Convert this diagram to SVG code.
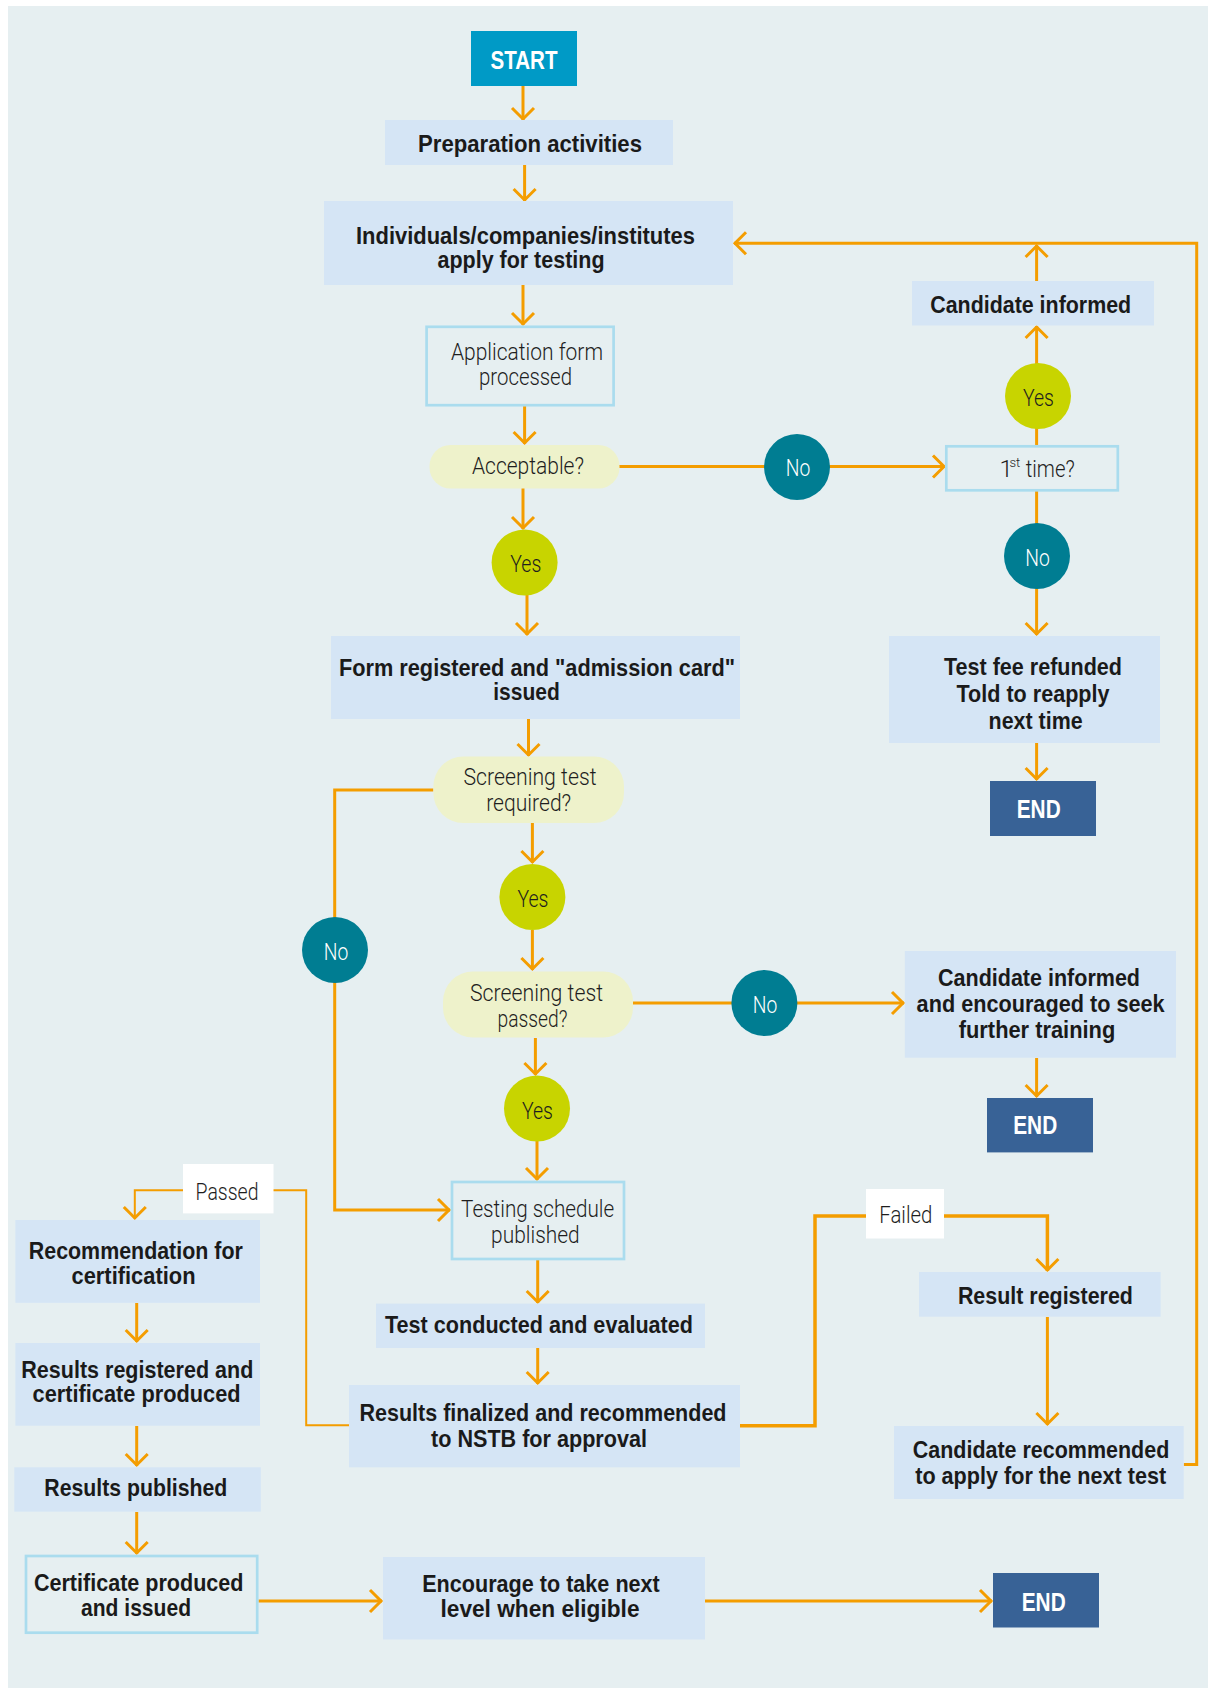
<svg xmlns="http://www.w3.org/2000/svg" width="1208" height="1688" viewBox="0 0 1208 1688">
<style>
.b{font-family:'Liberation Sans Narrow','Liberation Sans',Arial,sans-serif;font-weight:700;font-size:24px;fill:#1a1a1a;text-anchor:middle}
.l{font-family:Roboto,'Liberation Sans',Arial,sans-serif;font-weight:300;font-size:24px;fill:#1e1e1e;text-anchor:middle}
.w{fill:#ffffff}
.box{fill:#d5e5f5}
.obox{fill:#e6eff1;stroke:#aadcee;stroke-width:2.7}
.pill{fill:#eef2cb}
.yes{fill:#c8d400}
.no{fill:#007d92}
.end{fill:#386296}
.lab{fill:#ffffff}
.ca{fill:none;stroke:#f49d00;stroke-width:3;marker-end:url(#ah)}
</style>
<defs>
<marker id="ah" viewBox="-14 -14 28 28" markerWidth="28" markerHeight="28" markerUnits="userSpaceOnUse" refX="1" refY="0" orient="auto">
<path d="M-11,-11 L0,0 L-11,11" fill="none" stroke="#f49d00" stroke-width="3"/>
</marker>
</defs>
<rect x="8" y="6" width="1200" height="1682" fill="#e6eff1"/>
<g id="connectors">
<path class="ca" d="M523,86 V120"/>
<path class="ca" d="M524.6,165 V201"/>
<path class="ca" d="M523,285 V325"/>
<path class="ca" d="M524.6,406 V444"/>
<path class="ca" d="M523,488 V529"/>
<path class="ca" d="M527,595 V635"/>
<path class="ca" d="M528.5,719 V756"/>
<path class="ca" d="M532.4,823 V863"/>
<path class="ca" d="M532.4,930 V970"/>
<path class="ca" d="M535.4,1038 V1075"/>
<path class="ca" d="M537,1141 V1180"/>
<path class="ca" d="M537.7,1260 V1303"/>
<path class="ca" d="M537.7,1348 V1384"/>
<path class="ca" d="M619,466.5 H945"/>
<path class="ca" d="M1036.6,445 V326"/>
<path class="ca" d="M1036.6,281 V245"/>
<path class="ca" d="M1036.6,491 V635"/>
<path class="ca" d="M1036.6,743 V780"/>
<path class="ca" d="M433.4,790 H334.7 V1210 H450"/>
<path class="ca" d="M633,1003 H904"/>
<path class="ca" d="M1036.6,1058 V1097"/>
<path class="ca" style="stroke-width:2" d="M349,1425.3 H306.2 V1190.3 H134.8 V1219"/>
<path class="ca" style="stroke-width:3.5" d="M740,1425.7 H815 V1216 H1047.4 V1271"/>
<path class="ca" d="M1047.4,1317 V1425"/>
<path class="ca" d="M1183.7,1464.6 H1196.7 V243.3 H734"/>
<path class="ca" d="M136.7,1303 V1342"/>
<path class="ca" d="M136.7,1426 V1466"/>
<path class="ca" d="M136.7,1512 V1554"/>
<path class="ca" d="M258.5,1601 H382"/>
<path class="ca" d="M705,1601 H992"/>
</g>
<g id="start"><rect x="471" y="31" width="106" height="55" fill="#009ac6"/><text class="b w" x="524" y="69" style="font-size:26px" textLength="67" lengthAdjust="spacingAndGlyphs">START</text></g>
<g id="prep"><rect class="box" x="385" y="120" width="288" height="45"/><text class="b" x="530" y="152" textLength="224" lengthAdjust="spacingAndGlyphs">Preparation activities</text></g>
<g id="apply"><rect class="box" x="324" y="201" width="409" height="84"/>
<text class="b" x="525.5" y="243.5" textLength="339" lengthAdjust="spacingAndGlyphs">Individuals/companies/institutes</text>
<text class="b" x="521" y="267.7" textLength="167" lengthAdjust="spacingAndGlyphs">apply for testing</text></g>
<g id="appform"><rect class="obox" x="426.6" y="326.8" width="187" height="78.4"/>
<text class="l" x="527" y="360" textLength="152" lengthAdjust="spacingAndGlyphs">Application form</text>
<text class="l" x="525.5" y="385" textLength="93" lengthAdjust="spacingAndGlyphs">processed</text></g>
<g id="acceptable"><rect class="pill" x="429.5" y="445" width="190" height="43.5" rx="21"/><text class="l" x="528" y="474" textLength="112" lengthAdjust="spacingAndGlyphs">Acceptable?</text></g>
<g id="no1"><circle class="no" cx="797" cy="467" r="33"/><text class="l w" x="798" y="476" textLength="24.5" lengthAdjust="spacingAndGlyphs">No</text></g>
<g id="firsttime"><rect class="obox" x="946.3" y="446.3" width="171.5" height="44"/>
<text class="l" style="text-anchor:start"><tspan x="999.5" y="476.5">1</tspan><tspan x="1009.5" y="467" style="font-size:13px">st</tspan><tspan x="1025.7" y="476.5" textLength="49" lengthAdjust="spacingAndGlyphs">time?</tspan></text></g>
<g id="yes2"><circle class="yes" cx="1038" cy="396" r="33"/><text class="l" x="1038.5" y="405.5" textLength="31" lengthAdjust="spacingAndGlyphs">Yes</text></g>
<g id="candinf"><rect class="box" x="912" y="281" width="242" height="44.5"/><text class="b" x="1030.7" y="313" textLength="201" lengthAdjust="spacingAndGlyphs">Candidate informed</text></g>
<g id="no2"><circle class="no" cx="1037" cy="556" r="33"/><text class="l w" x="1037.5" y="565.5" textLength="24.5" lengthAdjust="spacingAndGlyphs">No</text></g>
<g id="refund"><rect class="box" x="889" y="636" width="271" height="107"/>
<text class="b" x="1033" y="675" textLength="178" lengthAdjust="spacingAndGlyphs">Test fee refunded</text>
<text class="b" x="1033" y="702" textLength="153" lengthAdjust="spacingAndGlyphs">Told to reapply</text>
<text class="b" x="1035.6" y="728.7" textLength="94" lengthAdjust="spacingAndGlyphs">next time</text></g>
<g id="end1"><rect class="end" x="990" y="781" width="106" height="55"/><text class="b w" x="1038.7" y="818" style="font-size:25px" textLength="44" lengthAdjust="spacingAndGlyphs">END</text></g>
<g id="yes1"><circle class="yes" cx="524.6" cy="562.4" r="33"/><text class="l" x="525.8" y="572" textLength="31" lengthAdjust="spacingAndGlyphs">Yes</text></g>
<g id="formreg"><rect class="box" x="331" y="636" width="409" height="83"/>
<text class="b" x="537" y="675.6" textLength="396" lengthAdjust="spacingAndGlyphs">Form registered and "admission card"</text>
<text class="b" x="526.5" y="699.8" textLength="66.6" lengthAdjust="spacingAndGlyphs">issued</text></g>
<g id="screenreq"><rect class="pill" x="433.4" y="756.5" width="190.6" height="66.5" rx="30"/>
<text class="l" x="530" y="785.3" textLength="133" lengthAdjust="spacingAndGlyphs">Screening test</text>
<text class="l" x="528.7" y="811" textLength="85" lengthAdjust="spacingAndGlyphs">required?</text></g>
<g id="no3"><circle class="no" cx="335" cy="950" r="33"/><text class="l w" x="336" y="960" textLength="24.5" lengthAdjust="spacingAndGlyphs">No</text></g>
<g id="yes3"><circle class="yes" cx="532.4" cy="897" r="33"/><text class="l" x="533" y="906.7" textLength="31" lengthAdjust="spacingAndGlyphs">Yes</text></g>
<g id="screenpass"><rect class="pill" x="443" y="971.4" width="190" height="66.2" rx="30"/>
<text class="l" x="536.5" y="1001" textLength="133" lengthAdjust="spacingAndGlyphs">Screening test</text>
<text class="l" x="532.5" y="1027" textLength="70" lengthAdjust="spacingAndGlyphs">passed?</text></g>
<g id="no4"><circle class="no" cx="764.4" cy="1003" r="33"/><text class="l w" x="765" y="1012.6" textLength="24.5" lengthAdjust="spacingAndGlyphs">No</text></g>
<g id="candenc"><rect class="box" x="904.8" y="951" width="271.2" height="106.7"/>
<text class="b" x="1039" y="985.7" textLength="202" lengthAdjust="spacingAndGlyphs">Candidate informed</text>
<text class="b" x="1040.6" y="1011.5" textLength="248" lengthAdjust="spacingAndGlyphs">and encouraged to seek</text>
<text class="b" x="1037" y="1037.7" textLength="156.5" lengthAdjust="spacingAndGlyphs">further training</text></g>
<g id="end2"><rect class="end" x="987" y="1098" width="106" height="54.4"/><text class="b w" x="1035.2" y="1134" style="font-size:25px" textLength="44" lengthAdjust="spacingAndGlyphs">END</text></g>
<g id="yes4"><circle class="yes" cx="537" cy="1108.5" r="33"/><text class="l" x="537.5" y="1118.5" textLength="31" lengthAdjust="spacingAndGlyphs">Yes</text></g>
<g id="testsched"><rect class="obox" x="452" y="1182" width="172" height="77"/>
<text class="l" x="537.6" y="1217" textLength="153" lengthAdjust="spacingAndGlyphs">Testing schedule</text>
<text class="l" x="535.4" y="1242.7" textLength="88.6" lengthAdjust="spacingAndGlyphs">published</text></g>
<g id="testcond"><rect class="box" x="376" y="1303.6" width="329" height="44.4"/><text class="b" x="539" y="1332.5" textLength="308" lengthAdjust="spacingAndGlyphs">Test conducted and evaluated</text></g>
<g id="resfin"><rect class="box" x="349" y="1385" width="391" height="82.3"/>
<text class="b" x="543" y="1421" textLength="367" lengthAdjust="spacingAndGlyphs">Results finalized and recommended</text>
<text class="b" x="539" y="1447" textLength="216" lengthAdjust="spacingAndGlyphs">to NSTB for approval</text></g>
<g id="passed"><rect class="lab" x="183" y="1164" width="90.5" height="49.4"/><text class="l" x="227" y="1199.6" textLength="63" lengthAdjust="spacingAndGlyphs">Passed</text></g>
<g id="failed"><rect class="lab" x="866" y="1189" width="78" height="49.5"/><text class="l" x="905.8" y="1223.4" textLength="53" lengthAdjust="spacingAndGlyphs">Failed</text></g>
<g id="recom"><rect class="box" x="15.4" y="1220" width="244.6" height="82.8"/>
<text class="b" x="135.8" y="1259.3" textLength="214" lengthAdjust="spacingAndGlyphs">Recommendation for</text>
<text class="b" x="133.5" y="1283.5" textLength="124" lengthAdjust="spacingAndGlyphs">certification</text></g>
<g id="resreg"><rect class="box" x="15.4" y="1343" width="244.6" height="82.7"/>
<text class="b" x="137.3" y="1377.5" textLength="232" lengthAdjust="spacingAndGlyphs">Results registered and</text>
<text class="b" x="136.6" y="1402" textLength="208" lengthAdjust="spacingAndGlyphs">certificate produced</text></g>
<g id="respub"><rect class="box" x="14.3" y="1467.3" width="246.5" height="44.3"/><text class="b" x="135.8" y="1496.2" textLength="183" lengthAdjust="spacingAndGlyphs">Results published</text></g>
<g id="certprod"><rect class="obox" x="26" y="1556" width="231.2" height="76.7"/>
<text class="b" x="138.7" y="1590.6" textLength="209.6" lengthAdjust="spacingAndGlyphs">Certificate produced</text>
<text class="b" x="136" y="1616.4" textLength="110" lengthAdjust="spacingAndGlyphs">and issued</text></g>
<g id="encourage"><rect class="box" x="383" y="1557" width="322" height="82.5"/>
<text class="b" x="541" y="1591.7" textLength="237.6" lengthAdjust="spacingAndGlyphs">Encourage to take next</text>
<text class="b" x="540" y="1616.7" textLength="199" lengthAdjust="spacingAndGlyphs">level when eligible</text></g>
<g id="end3"><rect class="end" x="993" y="1573" width="106" height="54.5"/><text class="b w" x="1043.7" y="1610.6" style="font-size:25px" textLength="44" lengthAdjust="spacingAndGlyphs">END</text></g>
<g id="resultreg"><rect class="box" x="919" y="1272" width="241.6" height="44.7"/><text class="b" x="1045.4" y="1303.6" textLength="175" lengthAdjust="spacingAndGlyphs">Result registered</text></g>
<g id="candrec"><rect class="box" x="894" y="1426" width="289.7" height="73"/>
<text class="b" x="1041" y="1457.6" textLength="256.5" lengthAdjust="spacingAndGlyphs">Candidate recommended</text>
<text class="b" x="1040.7" y="1483.5" textLength="251" lengthAdjust="spacingAndGlyphs">to apply for the next test</text></g>
</svg>
